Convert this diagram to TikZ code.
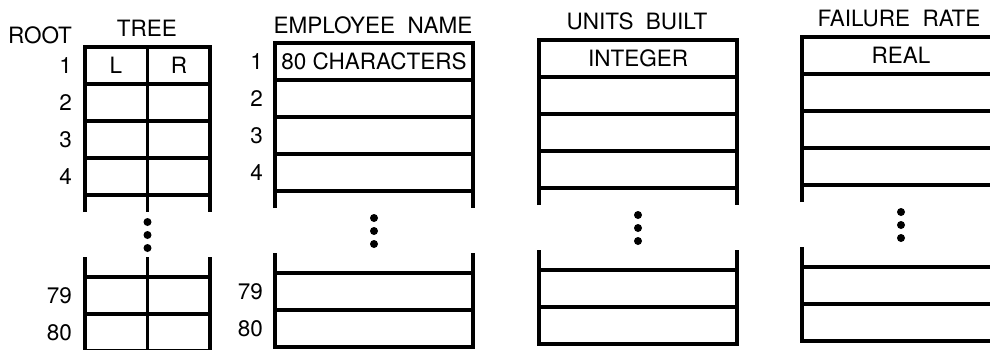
\documentclass[tikz,border=0pt]{standalone}
\usepackage{fontspec}
\setmainfont{TeX Gyre Heros}
\usetikzlibrary{positioning,calc}

\begin{document}
\begin{tikzpicture}[x=1pt,y=-1pt,
  grid/.style={line width=3.3pt},
  txt/.style={font=\fontsize{22.5}{26}\selectfont,inner sep=0pt},
  num/.style={txt,anchor=east},
  dot/.style={circle,fill,inner sep=0pt,minimum size=8pt}]
\useasboundingbox (0,0) rectangle (990,349);
\clip (0,0) rectangle (990,349);

% the four tables: left, right, top, name
\foreach \xa/\xb/\ya/\nm in {85/210/47/tree,275/473/43/emp,539/737/40/units,802/1000/37/fail}{
  \draw[grid] (\xa,\ya+165) -- (\xa,\ya) -- (\xb,\ya) -- (\xb,\ya+165);
  \foreach \k in {1,...,4}
    \draw[grid] (\xa,\ya+37*\k) -- (\xb,\ya+37*\k);
  \draw[grid] (\xa,\ya+210) -- (\xa,\ya+304) -- (\xb,\ya+304) -- (\xb,\ya+210);
  \foreach \k in {230,267}
    \draw[grid] (\xa,\ya+\k) -- (\xb,\ya+\k);
  \foreach \k in {1,2,3}
    \node[dot] (\nm-d\k) at ({(\xa+\xb)/2},\ya+162+13*\k) {};
}

% middle line of the tree
\draw[grid] (147.5,47) -- (147.5,212);
\draw[grid] (147.5,257) -- (147.5,351);

% row numbers
\foreach \xa/\ya/\nm in {72/47/tree,263/43/emp}{
  \foreach \k in {1,...,4}
    \node[num] (\nm-n\k) at (\xa,\ya+18.5+37*\k-37) {\k};
  \node[num] (\nm-n79) at (\xa,\ya+248.5) {79};
  \node[num] (\nm-n80) at (\xa,\ya+285.5) {80};
}

% headings
\node[txt] (root) at (40,35) {ROOT};
\node[txt] (tree) at (147,28) {TREE};
\node[txt] (emp) at (373,25) {EMPLOYEE\hspace{0.55em}NAME};
\node[txt] (units) at (637,21) {UNITS\hspace{0.55em}BUILT};
\node[txt] (fail) at (899,18) {FAILURE\hspace{0.55em}RATE};

% cell contents
\node[txt] (left) at (116,65.5) {L};
\node[txt] (right) at (179,65.5) {R};
\node[txt] (chars) at (374,61.5) {80 CHARACTERS};
\node[txt] (int) at (638,58.5) {INTEGER};
\node[txt] (real) at (901,55.5) {REAL};
\end{tikzpicture}
\end{document}
